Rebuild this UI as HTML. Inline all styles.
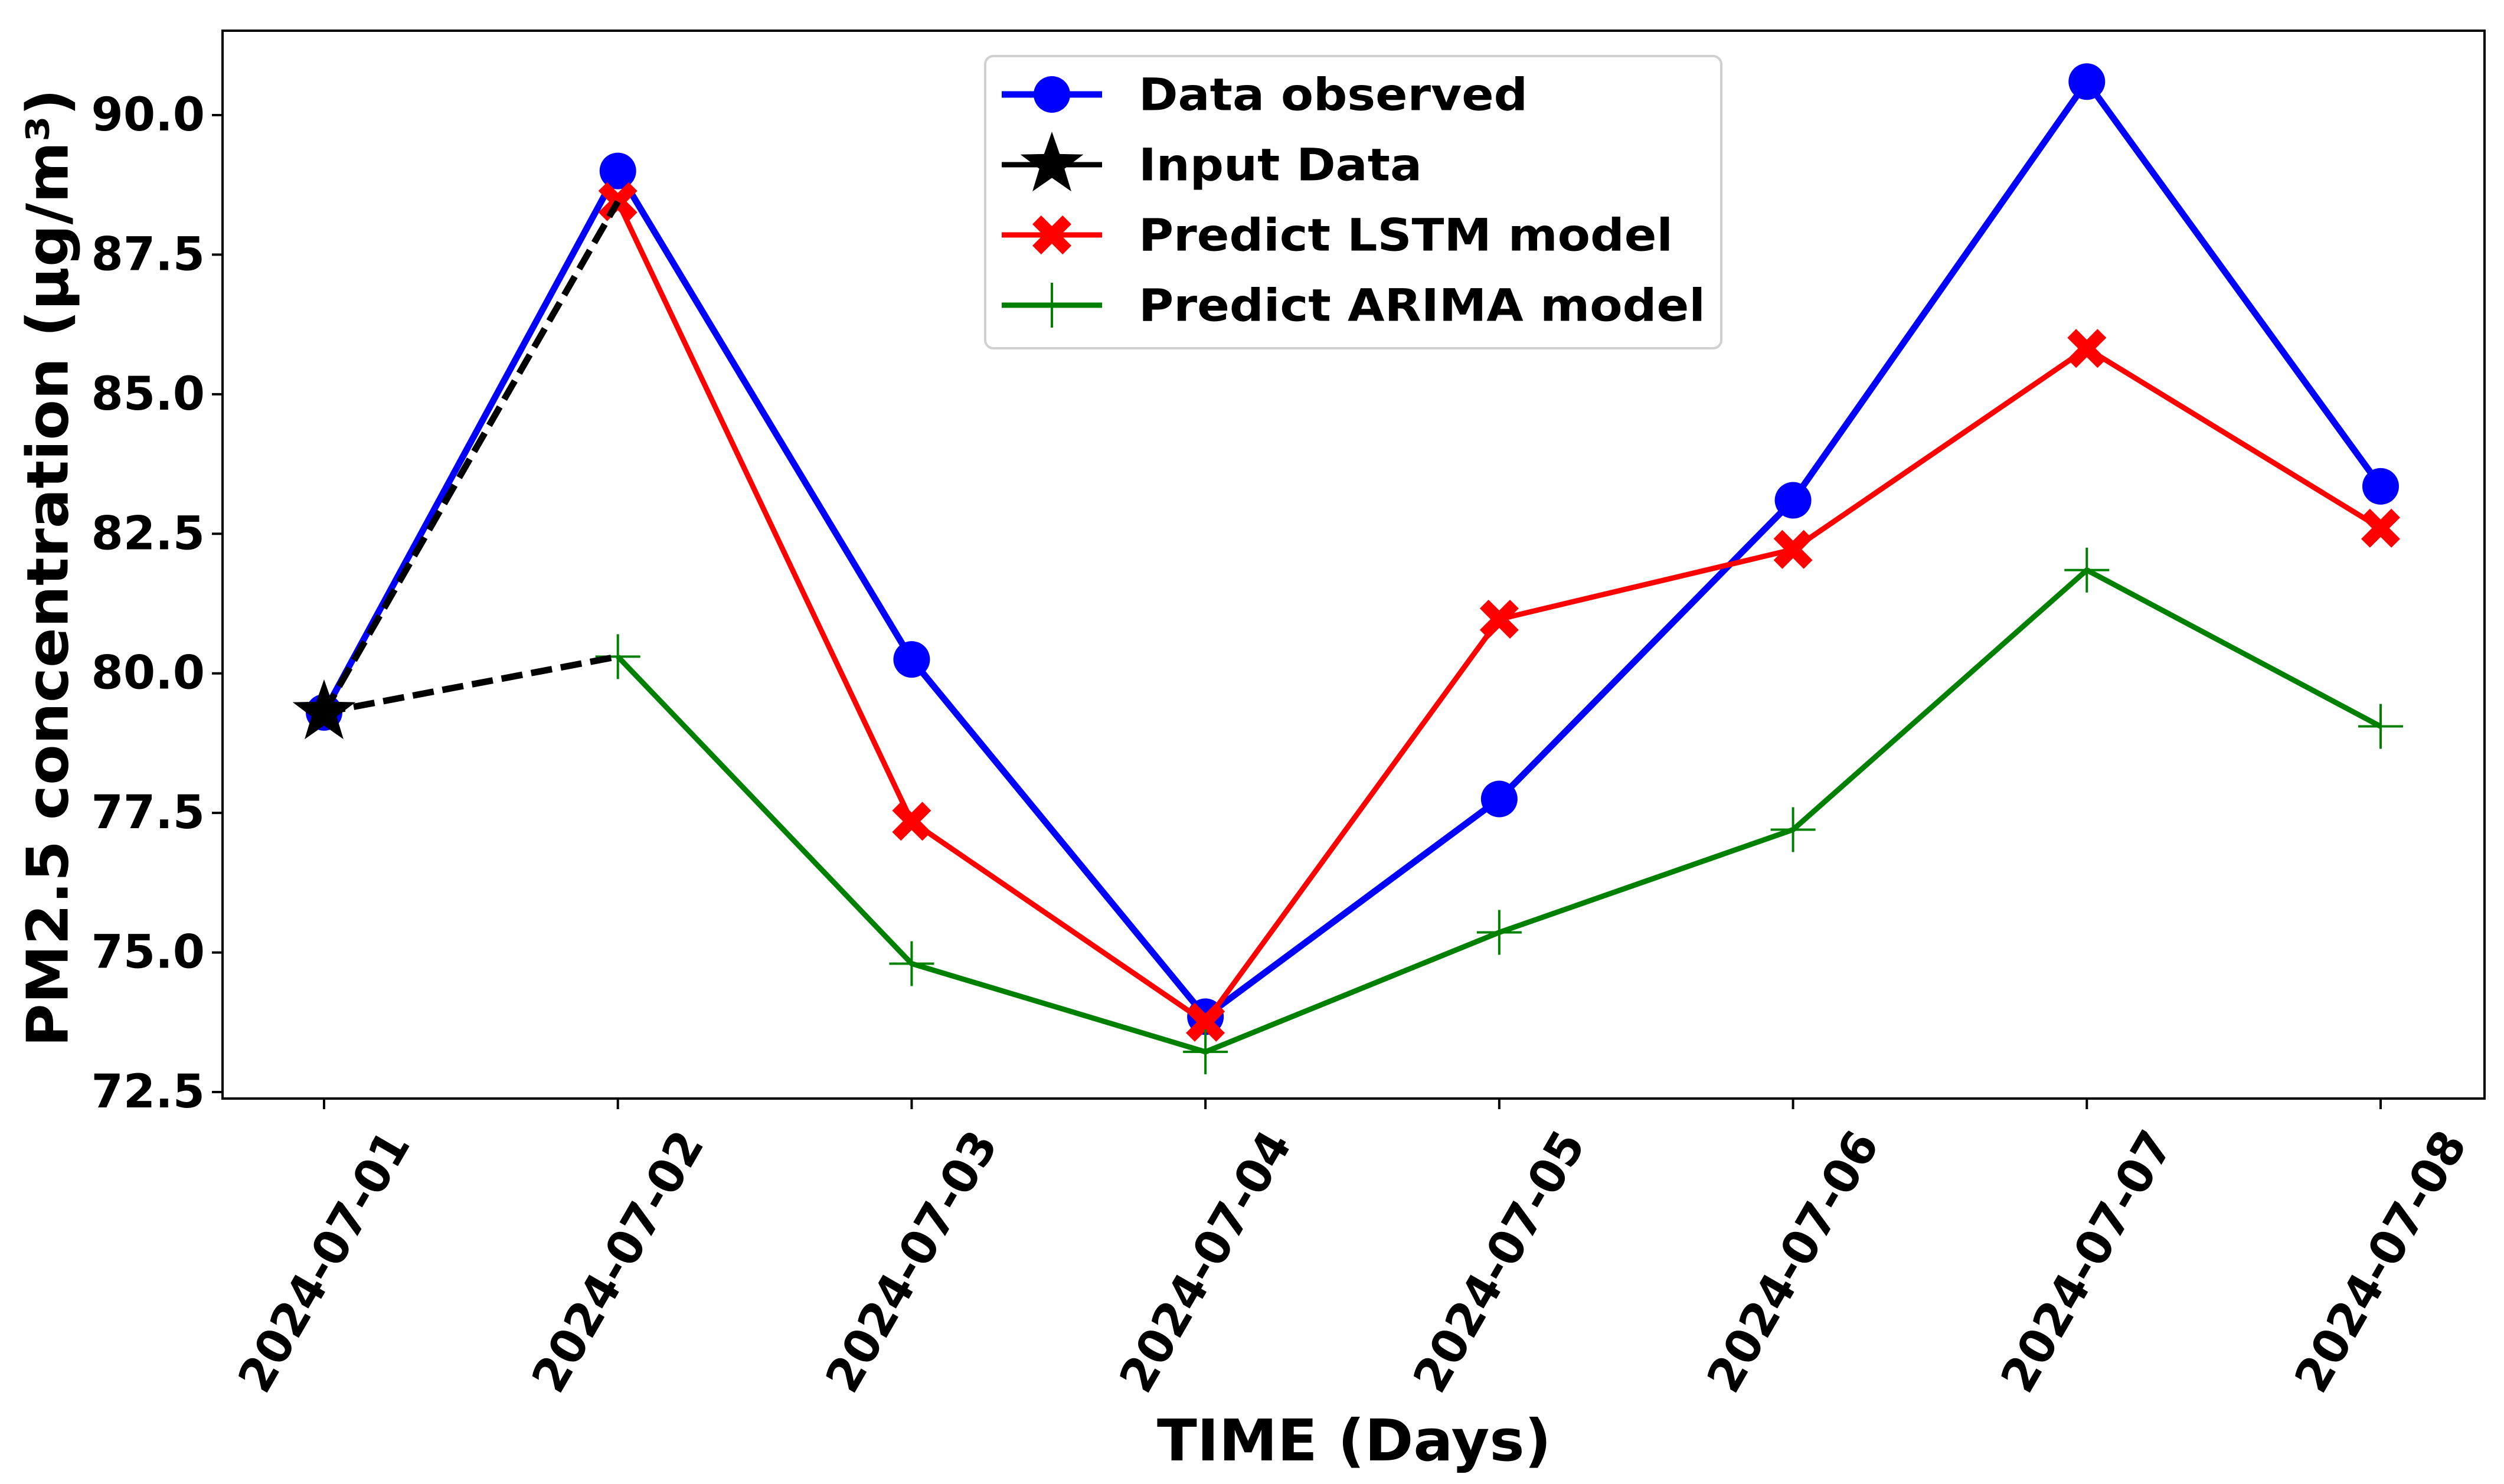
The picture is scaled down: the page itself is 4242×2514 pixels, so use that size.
<!DOCTYPE html>
<html><head><meta charset="utf-8">
<style>html,body{margin:0;padding:0;background:#fff;}svg{display:block;}
text{font-family:"DejaVu Sans","Liberation Sans",sans-serif;font-weight:bold;fill:#000;}</style></head>
<body>
<svg id="chart" width="4242" height="2514" viewBox="0 0 4242 2514" xmlns="http://www.w3.org/2000/svg">
<rect x="0" y="0" width="4242" height="2514" fill="#fff"/>
<g id="plot"></g>
<g id="axes"></g>
<g id="legend"></g>
</svg>
<script>
const categories = ["2024-07-01","2024-07-02","2024-07-03","2024-07-04","2024-07-05","2024-07-06","2024-07-07","2024-07-08"];
const observed = [79.3, 89.0, 80.25, 73.85, 77.75, 83.1, 90.6, 83.35];
const lstm = [null, 88.45, 77.35, 73.75, 80.97, 82.22, 85.82, 82.6];
const arima = [null, 80.3, 74.8, 73.22, 75.36, 77.2, 81.85, 79.05];
const inputValue = [79.3];
const yTicks = [72.5, 75.0, 77.5, 80.0, 82.5, 85.0, 87.5, 90.0];
const yTickLabels = ["72.5","75.0","77.5","80.0","82.5","85.0","87.5","90.0"];

const NS = "http://www.w3.org/2000/svg";
const L = 377, R = 4209, T = 52, B = 1861;
const X0 = 549, X1 = 4033;
function xs(i){ return X0 + (X1 - X0) * i / (categories.length - 1); }
function ys(v){ return 1850 + (v - 72.5) * (195 - 1850) / (90 - 72.5); }
function mk(tag, attrs, parent){ const e = document.createElementNS(NS, tag); for (const k in attrs) e.setAttribute(k, attrs[k]); parent.appendChild(e); return e; }
const plot = document.getElementById('plot'), axes = document.getElementById('axes'), legend = document.getElementById('legend');

function pts(arr){ const p=[]; arr.forEach((v,i)=>{ if(v!==null) p.push([xs(i),ys(v)]); }); return p; }
function starPath(cx,cy,r){ let d=""; for(let k=0;k<10;k++){ const rr=k%2?r*0.4:r; const a=-Math.PI/2+k*Math.PI/5; d+=(k?"L":"M")+(cx+rr*Math.cos(a)).toFixed(1)+","+(cy+rr*Math.sin(a)).toFixed(1);} return d+"Z"; }
function xPath(cx,cy,s){ const a=s, b=s*0.45; const P=[[0,-b],[a-b,-a],[a,-a+b],[b,0],[a,a-b],[a-b,a],[0,b],[-a+b,a],[-a,a-b],[-b,0],[-a,-a+b],[-a+b,-a]]; return "M"+P.map(p=>(cx+p[0]).toFixed(1)+","+(cy+p[1]).toFixed(1)).join("L")+"Z"; }

// observed line
let p = pts(observed);
let el = mk('polyline',{points:p.map(q=>q.join(',')).join(' '),fill:'none',stroke:'#0000ff','stroke-width':11,'stroke-linejoin':'round'},plot);


p.forEach((q,i)=>{ const c=mk('circle',{cx:q[0],cy:q[1],r:31,fill:'#0000ff'},plot);

 });

// LSTM line
p = pts(lstm);
el = mk('polyline',{points:p.map(q=>q.join(',')).join(' '),fill:'none',stroke:'#ff0000','stroke-width':9,'stroke-linejoin':'round'},plot);


p.forEach((q,i)=>{ const m=mk('path',{d:xPath(q[0],q[1],33),fill:'#ff0000'},plot);

 });

// ARIMA line
p = pts(arima);
el = mk('polyline',{points:p.map(q=>q.join(',')).join(' '),fill:'none',stroke:'#008000','stroke-width':9,'stroke-linejoin':'round'},plot);


p.forEach((q,i)=>{ const m=mk('path',{d:`M${q[0]-38},${q[1]}H${q[0]+38}M${q[0]},${q[1]-38}V${q[1]+38}`,stroke:'#008000','stroke-width':4,fill:'none'},plot);

 });

// Input data dashed connectors
const sx = xs(0), sy = ys(inputValue[0]);
[[xs(1),ys(lstm[1])],[xs(1),ys(arima[1])]].forEach((q,k)=>{
  const d = mk('line',{x1:sx,y1:sy,x2:q[0],y2:q[1],stroke:'#000','stroke-width':11,'stroke-dasharray':'36,15'},plot);
  
  
});
el = mk('path',{d:starPath(sx,sy,56),fill:'#000'},plot);



// axes frame
el = mk('rect',{x:L,y:T,width:R-L,height:B-T,fill:'none',stroke:'#000','stroke-width':4},axes);


yTicks.forEach((v,i)=>{
  const y=ys(v);
  const t=mk('line',{x1:L-18,y1:y,x2:L,y2:y,stroke:'#000','stroke-width':4},axes);
  
  
  const tx=mk('text',{x:L-30,y:y,'text-anchor':'end','dominant-baseline':'central','font-size':78},axes);
  tx.textContent=yTickLabels[i];
  
  
});
categories.forEach((c,i)=>{
  const x=xs(i);
  const t=mk('line',{x1:x,y1:B,x2:x,y2:B+18,stroke:'#000','stroke-width':4},axes);
  
  
  const cy=2137;
  const tx=mk('text',{x:x,y:cy,'text-anchor':'middle','dominant-baseline':'central','font-size':80,textLength:494,lengthAdjust:'spacingAndGlyphs',transform:`rotate(-60 ${x} ${cy})`},axes);
  tx.textContent=c;
  
  
});
el = mk('text',{x:2294,y:2474,'text-anchor':'middle','font-size':97,textLength:668,lengthAdjust:'spacingAndGlyphs'},axes);
el.textContent='TIME (Days)';


el = mk('text',{x:81,y:962,'text-anchor':'middle','dominant-baseline':'central','font-size':97,textLength:1623,lengthAdjust:'spacingAndGlyphs',transform:'rotate(-90 81 962)'},axes);
el.textContent='PM2.5 concentration (μg/m³)';



// legend
el = mk('rect',{x:1669,y:95,width:1247,height:495,rx:14,fill:'#fff','fill-opacity':0.8,stroke:'#d0d0d0','stroke-width':4},legend);


const legNames = ['Data observed','Input Data','Predict LSTM model','Predict ARIMA model'];
const legW = [659, 480, 905, 960];
const legY = [160, 279, 398, 517];
const legCol = ['#0000ff','#000','#ff0000','#008000'];
legNames.forEach((n,i)=>{
  const y=legY[i], cx=1782;
  const g=mk('g',{},legend);
  
  
  mk('line',{x1:1697,y1:y,x2:1867,y2:y,stroke:legCol[i],'stroke-width':i==0?11:9},g);
  if(i==0) mk('circle',{cx:cx,cy:y,r:31,fill:'#0000ff'},g);
  if(i==1) mk('path',{d:starPath(cx,y,56),fill:'#000'},g);
  if(i==2) mk('path',{d:xPath(cx,y,33),fill:'#ff0000'},g);
  if(i==3) mk('path',{d:`M${cx-38},${y}H${cx+38}M${cx},${y-38}V${y+38}`,stroke:'#008000','stroke-width':4},g);
  const t=mk('text',{x:1929,y:y,'dominant-baseline':'central','font-size':76,textLength:legW[i],lengthAdjust:'spacingAndGlyphs'},g);
  t.textContent=n;
});
</script>
</body></html>
